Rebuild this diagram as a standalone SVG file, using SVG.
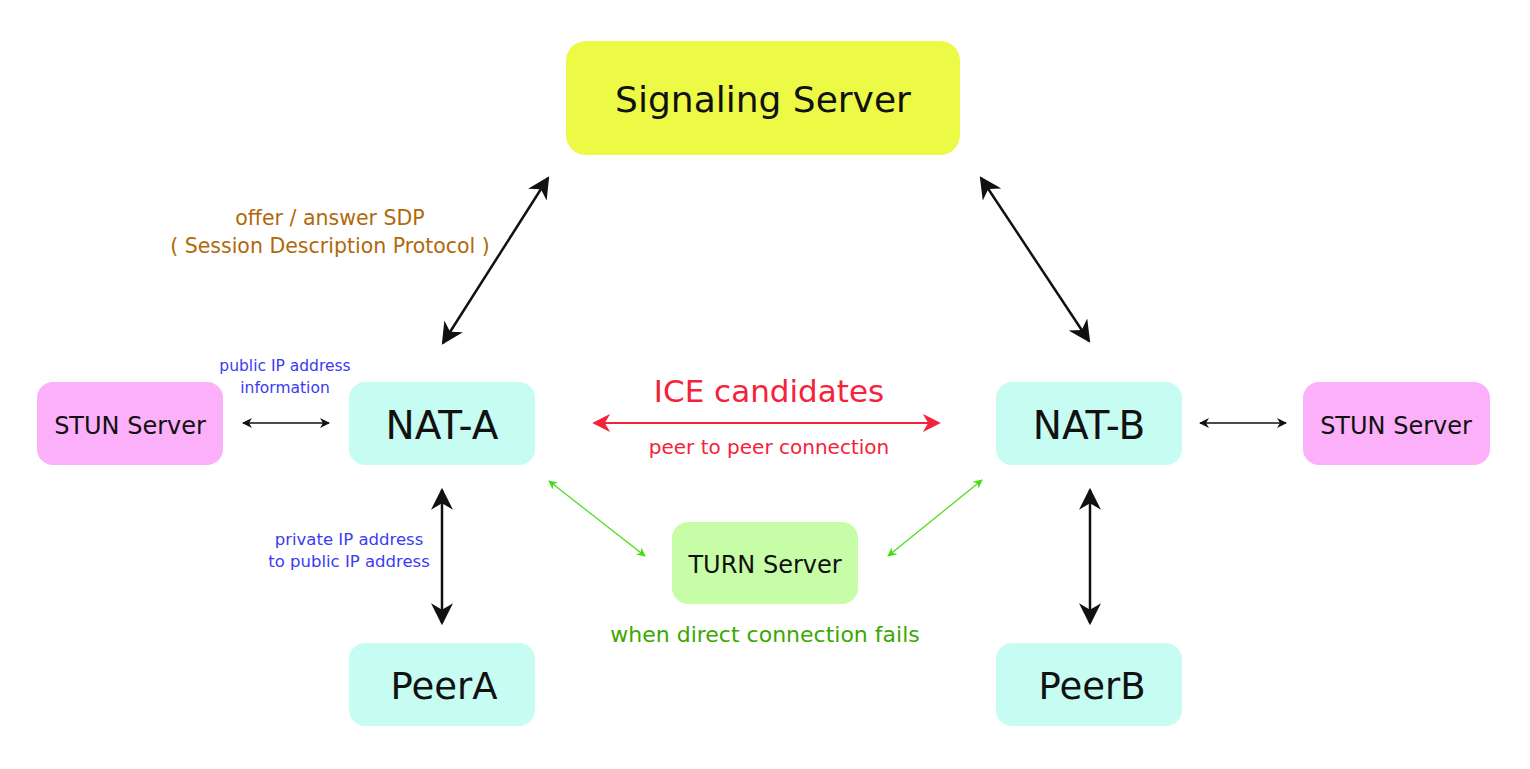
<svg xmlns="http://www.w3.org/2000/svg" width="1530" height="769" viewBox="0 0 1530 769">
<style>
text{font-family:"DejaVu Sans","Liberation Sans",sans-serif;text-anchor:middle;dominant-baseline:central}
.nat{fill:#c6fcf2}
.stun{fill:#fbb0f9}
.big{font-size:39px;fill:#111}
.mid{font-size:24px;fill:#111}
.blk{stroke:#111;stroke-width:2.5;fill:none}
.thin{stroke:#111;stroke-width:1.3;fill:none}
.red{stroke:#f5223a;stroke-width:2;fill:none}
.grn{stroke:#44dd11;stroke-width:1.2;fill:none}
</style>
<defs>
<marker id="ab" viewBox="0 0 10 10" refX="9" refY="5" markerWidth="10" markerHeight="10" markerUnits="userSpaceOnUse" orient="auto-start-reverse"><path d="M0,0 L10,5 L0,10 L3,5 z" fill="#111"/></marker>
<marker id="abig" viewBox="0 0 10 10" refX="9" refY="5" markerWidth="22" markerHeight="22" markerUnits="userSpaceOnUse" orient="auto-start-reverse"><path d="M0,0 L10,5 L0,10 L3,5 z" fill="#111"/></marker>
<marker id="ar" viewBox="0 0 10 10" refX="9" refY="5" markerWidth="18" markerHeight="18" markerUnits="userSpaceOnUse" orient="auto-start-reverse"><path d="M0,0 L10,5 L0,10 L3,5 z" fill="#f5223a"/></marker>
<marker id="ag" viewBox="0 0 10 10" refX="9" refY="5" markerWidth="9" markerHeight="9" markerUnits="userSpaceOnUse" orient="auto-start-reverse"><path d="M0,0 L10,5 L0,10 L3,5 z" fill="#44dd11"/></marker>
</defs>
<rect width="1530" height="769" fill="#fff"/>
<g id="signaling"><rect x="566" y="41" width="394" height="114" rx="20" fill="#ecf945"/><text x="763" y="99" style="font-size:36px;fill:#111">Signaling Server</text></g>
<g id="nat-a"><rect class="nat" x="349" y="382" width="186" height="83" rx="16"/><text class="big" x="442" y="425">NAT-A</text></g>
<g id="nat-b"><rect class="nat" x="996" y="382" width="186" height="83" rx="16"/><text class="big" x="1089" y="425">NAT-B</text></g>
<g id="stun-a"><rect class="stun" x="37" y="382" width="186" height="83" rx="16"/><text class="mid" x="130" y="426">STUN Server</text></g>
<g id="stun-b"><rect class="stun" x="1303" y="382" width="187" height="83" rx="16"/><text class="mid" x="1396" y="426">STUN Server</text></g>
<g id="turn"><rect x="672" y="522" width="186" height="82" rx="16" fill="#c8fda8"/><text class="mid" x="765" y="565">TURN Server</text></g>
<g id="peer-a"><rect class="nat" x="349" y="643" width="186" height="83" rx="16"/><text class="big" x="444" y="686" style="font-size:37px">PeerA</text></g>
<g id="peer-b"><rect class="nat" x="996" y="643" width="186" height="83" rx="16"/><text class="big" x="1092" y="686" style="font-size:37px">PeerB</text></g>
<g id="connectors">
<line class="blk" x1="443" y1="343" x2="548" y2="178" marker-start="url(#abig)" marker-end="url(#abig)"/>
<line class="blk" x1="981" y1="178" x2="1089" y2="341" marker-start="url(#abig)" marker-end="url(#abig)"/>
<line class="blk" x1="442" y1="490" x2="442" y2="623" marker-start="url(#abig)" marker-end="url(#abig)"/>
<line class="blk" x1="1090" y1="490" x2="1090" y2="623" marker-start="url(#abig)" marker-end="url(#abig)"/>
<line class="thin" x1="243" y1="423" x2="329" y2="423" marker-start="url(#ab)" marker-end="url(#ab)"/>
<line class="thin" x1="1200" y1="423" x2="1286" y2="423" marker-start="url(#ab)" marker-end="url(#ab)"/>
<line class="red" x1="594" y1="423" x2="939" y2="423" marker-start="url(#ar)" marker-end="url(#ar)"/>
<line class="grn" x1="549" y1="481" x2="645" y2="556" marker-start="url(#ag)" marker-end="url(#ag)"/>
<line class="grn" x1="982" y1="480" x2="888" y2="556" marker-start="url(#ag)" marker-end="url(#ag)"/>
</g>
<g id="labels">
<text x="330" y="218" style="font-size:20.5px;fill:#b0690a">offer / answer SDP</text>
<text x="330" y="246" style="font-size:20.5px;fill:#b0690a">( Session Description Protocol )</text>
<text x="285" y="366" style="font-size:15.5px;fill:#3b3bf0">public IP address</text>
<text x="285" y="388" style="font-size:15.5px;fill:#3b3bf0">information</text>
<text x="769" y="391" style="font-size:31px;fill:#f5223a">ICE candidates</text>
<text x="769" y="447" style="font-size:20px;fill:#f5223a">peer to peer connection</text>
<text x="349" y="539" style="font-size:16.5px;fill:#3b3bf0">private IP address</text>
<text x="349" y="561" style="font-size:16.5px;fill:#3b3bf0">to public IP address</text>
<text x="765" y="634" style="font-size:22px;fill:#3aa800">when direct connection fails</text>
</g>
</svg>
